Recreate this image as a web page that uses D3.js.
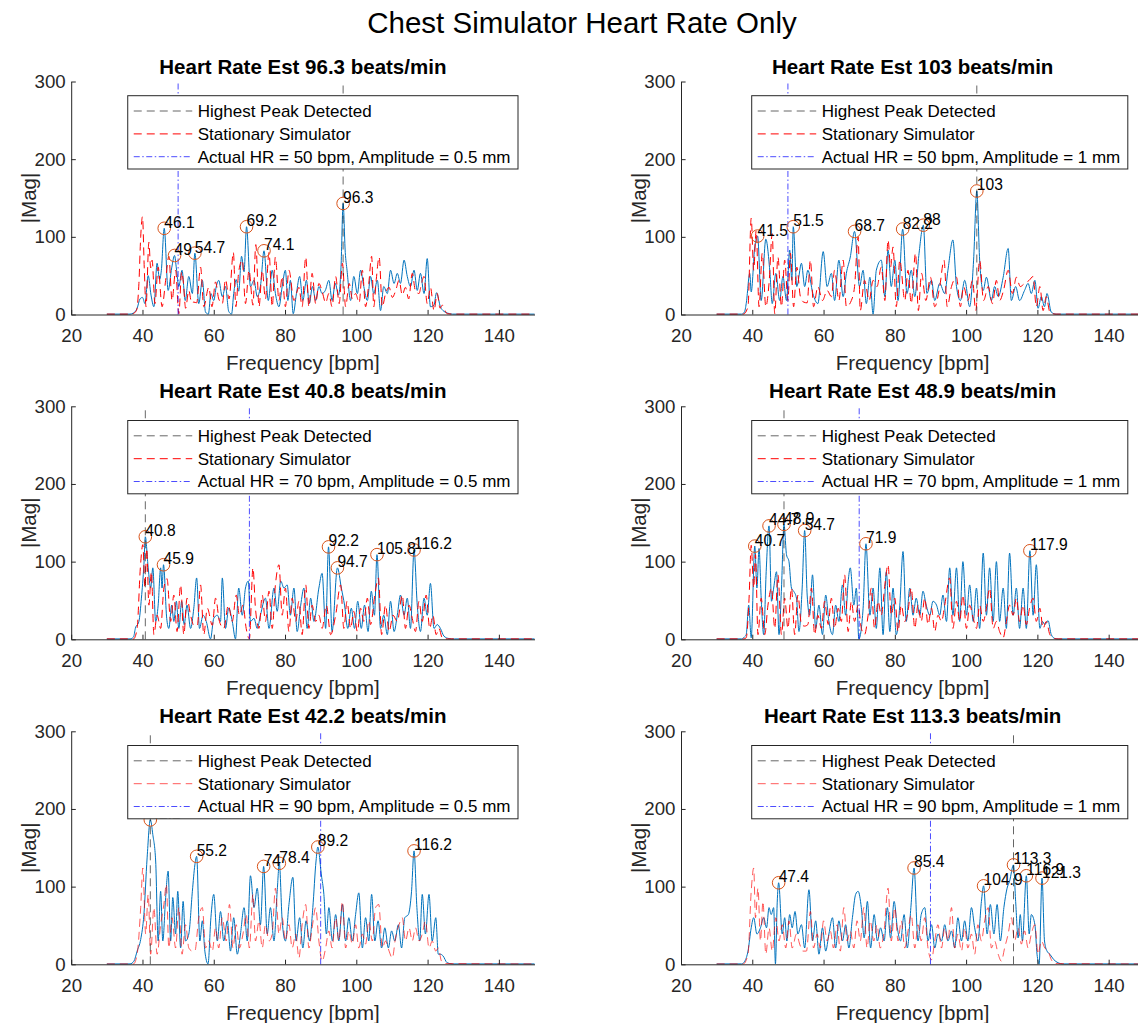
<!DOCTYPE html>
<html>
<head>
<meta charset="utf-8">
<script src="https://cdn.jsdelivr.net/npm/d3@7"></script>
<style>
  html, body { margin: 0; padding: 0; background: #fff; }
  svg { display: block; font-family: "Liberation Sans", Arial, Helvetica, sans-serif; }
</style>
</head>
<body>
<svg id="chart" width="1138" height="1023"></svg>
<script>
// ---------------- data ----------------
const mainTitle = "Chest Simulator Heart Rate Only";
const estimates = [96.3, 103, 40.8, 48.9, 42.2, 113.3];
const actualHR = [50, 50, 70, 70, 90, 90];
const amplitudes = ["0.5", "1", "0.5", "1", "0.5", "1"];
const xTicks = [20, 40, 60, 80, 100, 120, 140];
const yTicks = [0, 100, 200, 300];
const legendNames = ["Highest Peak Detected", "Stationary Simulator"];

// [frequency bpm, |Mag|]
const blue1 = [[30,0.5],[36.5,0.5],[37.5,2],[38.5,8],[39.3,20],[40,22],[40.7,14],[41.6,50],[42.4,25],[43.2,10],[44.1,66],[44.8,45],[45.3,57],[46.1,111],[47.2,31],[48.2,60],[49,76],[49.5,60],[50.2,36],[51.1,57],[52,18],[53,49],[54,27],[54.7,79],[55.8,14],[56.8,44],[57.7,3],[58.5,0.5],[59.2,27],[60,18],[60.7,36],[61.4,44],[62.4,23],[63.3,36],[64.2,4],[65,0.5],[65.6,27],[66.3,45],[67,30],[67.8,75],[68.5,55],[69.2,113],[70.3,36],[71.3,44],[72.2,23],[73.2,40],[74.1,82],[75.3,18],[76.4,57],[77.3,27],[78.3,10],[79.2,36],[80.1,57],[80.8,18],[81.5,44],[82.3,1],[83.2,27],[84.1,49],[85,18],[86,44],[86.8,14],[87.7,36],[88.6,18],[89.5,36],[90.4,27],[91.3,31],[92.3,44],[93.2,18],[94.1,40],[95,25],[95.7,60],[96.3,143],[96.9,80],[97.4,57],[98.4,18],[99.3,49],[100.3,27],[101.2,57],[102.1,36],[103.1,18],[104,49],[104.9,27],[105.9,44],[106.8,5],[107.7,36],[108.7,27],[109.6,57],[110.6,40],[111.5,53],[112.4,40],[113.4,70],[114.3,49],[115.2,36],[116.2,57],[117.1,31],[118,53],[119,27],[119.9,72],[120.8,10],[121.8,12],[122.5,28],[123.6,10],[124.6,4],[125.5,2],[127,0.5],[150,0.5]];
const red1 = [[30,0.5],[37,0.5],[38.3,5],[39,40],[39.5,100],[40,126],[40.5,60],[41,10],[41.8,93],[42.3,60],[42.7,70],[43.5,14],[44.4,61],[45.5,10],[46.5,44],[47.4,75],[48.3,18],[49.3,57],[50.2,1],[51,55],[51.5,40],[52.1,8],[53,31],[53.8,15],[54.4,16],[55.2,15],[56.3,61],[57.2,10],[58.6,35],[59.5,10],[60.5,42],[61.4,20],[62.4,14],[63.3,45],[64.3,20],[65.5,80],[66.2,10],[67,55],[68,70],[68.9,14],[69.9,57],[71,12],[71.8,90],[72.7,10],[73.6,57],[74.5,20],[75.5,80],[76.4,10],[77.3,74],[78.3,18],[79.2,49],[80.1,10],[81.1,57],[82.5,18],[83.9,35],[84.8,10],[85.8,74],[86.7,10],[87.6,53],[88.6,14],[89.5,40],[90.4,30],[91.4,15],[92.3,27],[93.2,10],[94.2,49],[95.2,14],[96.1,66],[97,10],[98,40],[98.9,20],[99.8,27],[100.8,15],[101.7,57],[102.6,10],[103.5,40],[104.3,75],[104.9,10],[105.6,45],[106.4,74],[107.3,10],[108.2,27],[109.2,35],[110.1,22],[111,30],[112,44],[112.9,25],[113.8,35],[114.7,20],[115.7,53],[116.6,30],[117.6,27],[118.3,40],[119,49],[119.9,14],[120.8,35],[121.8,5],[122.7,27],[123.5,8],[124.1,12],[125.5,1],[127,0.5],[150,0.5]];
const peaks1 = [[46.1,111],[49,76],[54.7,79],[69.2,113],[74.1,82],[96.3,143]];

const blue2 = [[30,0.5],[37,0.5],[37.8,3],[38.3,14],[39.3,53],[39.7,29],[40.7,87],[41.5,101],[42.5,18],[43.8,97],[44.9,57],[45.6,14],[46.6,53],[47.7,18],[48.6,49],[49.6,18],[50.5,83],[51.1,44],[51.5,113],[52.5,36],[53.8,66],[54.7,36],[55.6,57],[57,27],[58.4,14],[59.9,81],[61,36],[62.2,53],[63.1,18],[64.3,70],[65.5,23],[66.4,53],[67.5,74],[68.7,107],[70.1,36],[71.1,57],[72,14],[73,48],[73.9,0.5],[74.8,57],[76.2,70],[77.2,23],[78.1,83],[79,36],[80,70],[80.9,18],[82.2,110],[83.4,27],[84.6,57],[85.6,23],[86.8,79],[88,115],[89,27],[90.3,44],[91.2,18],[92.6,40],[94,27],[94.9,57],[96.3,96],[97.3,36],[98.4,18],[99.6,44],[101,10],[102.1,70],[103,159],[103.8,70],[104.8,31],[105.7,48],[107.1,18],[108,36],[109,23],[110.4,48],[111.8,85],[112.7,18],[113.9,36],[115,18],[116.4,31],[117.4,40],[118.3,27],[119.3,44],[120.2,8],[121.1,23],[122,10],[122.7,27],[123.9,3],[125.3,0.5],[150,0.5]];
const red2 = [[30,0.5],[37.5,0.5],[38.8,10],[39.7,124],[40.4,57],[41.1,108],[41.9,10],[42.8,79],[43.8,10],[44.7,40],[45.6,104],[46.3,1],[47.2,74],[48.2,10],[49.1,70],[50,18],[50.7,79],[51.6,10],[52.5,61],[53.5,23],[54.4,16],[55.4,15],[56.3,70],[57.2,10],[58.4,36],[59.7,18],[61,31],[62.2,23],[63.1,57],[64.3,18],[65.5,70],[66.4,10],[67.8,18],[68.7,36],[69.7,100],[70.3,5],[71.5,44],[72.8,18],[73.9,44],[75,36],[76.2,61],[77.2,18],[78.1,96],[78.8,61],[79.5,87],[80.4,10],[81.4,70],[82.8,18],[83.7,57],[84.6,14],[85.8,79],[86.6,5],[87.5,53],[88.7,18],[90,48],[91.2,10],[92.6,36],[93.8,70],[94.7,10],[95.9,36],[97.3,48],[98.4,10],[99.3,36],[100.5,18],[101.8,44],[102.7,5],[103.8,70],[104.9,18],[106.2,36],[107.4,14],[108.5,44],[109.4,18],[110.5,31],[111.8,57],[113,27],[114.1,48],[115.2,36],[116.4,40],[117.7,44],[118.8,49],[119.7,10],[120.7,36],[121.6,5],[122.5,23],[123.5,3],[124.9,0.5],[150,0.5]];
const peaks2 = [[41.5,101],[51.5,113],[68.7,107],[82.2,110],[88,115],[103,159]];

const blue3 = [[30,0.5],[36.5,0.5],[37.5,3],[38,14],[39,23],[39.7,53],[40.4,96],[40.8,132],[41.6,92],[42.3,66],[42.9,92],[43.7,23],[44.4,44],[45.1,92],[45.5,66],[45.9,96],[46.8,27],[47.4,14],[48.2,44],[48.8,23],[49.5,49],[50.2,14],[51,49],[51.7,19],[52.5,44],[53.5,14],[54.4,40],[55.2,79],[56,14],[57,31],[57.9,23],[59.1,0.5],[60,27],[61,31],[61.9,23],[62.4,79],[63.3,14],[64.2,40],[65.2,23],[66.1,0.5],[67,66],[68,31],[68.9,66],[69.7,75],[70.3,23],[71.3,27],[72.2,14],[73.1,31],[74.5,53],[75.5,14],[76.9,66],[77.8,36],[78.8,75],[79.7,66],[80.6,70],[81.5,31],[82.5,66],[83.4,10],[84.4,44],[85.3,66],[86.2,14],[87.2,53],[88.1,23],[89.5,66],[90.4,85],[91.4,14],[92.2,119],[93.2,10],[94.7,92],[95.8,66],[96.7,44],[97.6,14],[98.6,40],[99.5,14],[100.4,49],[101.4,14],[102.3,44],[103.3,10],[104.2,62],[105.1,31],[105.8,109],[106.8,14],[107.7,31],[108.7,6],[109.6,49],[110.6,10],[111.5,31],[112.4,57],[113.4,31],[114.3,53],[115.2,14],[116.2,115],[117.1,44],[118,10],[119,53],[119.9,31],[120.8,72],[121.8,14],[122.7,19],[123.6,14],[124.6,4],[126,1],[127.5,0.5],[150,0.5]];
const red3 = [[30,0.5],[37.5,0.5],[38.5,14],[39.4,92],[40.1,122],[40.7,66],[41.2,117],[41.8,44],[42.5,87],[43.2,6],[44.1,31],[45.1,14],[46,66],[46.9,78],[47.9,23],[48.8,57],[49.7,10],[50.7,70],[51.6,6],[52.5,53],[53.5,31],[54.4,18],[55.4,18],[56.3,70],[57.2,6],[58.2,40],[59.6,18],[60.5,53],[61.6,23],[62.8,14],[64.1,44],[65.2,23],[66.3,57],[67.2,31],[68.2,44],[69.1,14],[70,0.5],[71,92],[71.7,40],[72.7,14],[73.6,57],[74.5,23],[75.5,62],[76.4,14],[77.3,70],[78.3,96],[79.2,31],[80.1,66],[81.1,10],[82,53],[83,23],[83.9,49],[84.8,6],[85.8,70],[86.7,14],[87.6,44],[88.6,23],[89.5,31],[90.4,14],[91.6,44],[92.8,6],[94.2,31],[95.6,70],[96.5,14],[97.4,49],[98.4,14],[99.3,36],[100.3,10],[101.2,40],[102.1,23],[103.1,53],[104,19],[105.2,57],[106.2,79],[107.1,6],[108.2,44],[109.2,10],[110.3,31],[111.5,23],[112.9,57],[113.8,14],[114.8,44],[115.7,27],[116.6,10],[117.6,49],[118.5,23],[119.6,57],[120.6,14],[121.5,31],[122.4,6],[123.2,14],[124.1,2],[125.5,0.5],[150,0.5]];
const peaks3 = [[40.8,132],[45.9,96],[92.2,119],[94.7,92],[105.8,109],[116.2,115]];

const blue4 = [[30,0.5],[37,0.5],[37.8,3],[38.3,6],[39,44],[39.7,2],[40.7,120],[41.3,66],[41.9,117],[42.5,53],[43.2,6],[43.9,87],[44.7,146],[45.4,49],[46,66],[46.8,87],[47.5,6],[48.2,66],[48.9,148],[49.6,109],[50.3,100],[51,66],[51.6,62],[52.4,53],[53.1,10],[54,66],[54.7,140],[55.4,57],[56.1,31],[56.9,83],[57.8,14],[58.7,44],[59.7,6],[60.6,57],[61.5,23],[62.5,6],[63.4,44],[64.3,23],[65.3,70],[66.2,31],[66.9,74],[67.5,92],[68.5,44],[69.2,66],[69.9,0.5],[71.1,40],[71.9,123],[73,31],[73.9,66],[74.8,14],[75.8,92],[76.7,6],[77.6,87],[78.6,10],[79.5,66],[80.4,6],[81.4,44],[82.3,113],[83.2,23],[84.2,66],[85.1,31],[86,53],[87,31],[87.9,62],[88.8,44],[89.8,31],[90.7,49],[91.7,44],[92.6,31],[93.5,57],[94.5,23],[95.4,92],[96.3,31],[97.3,92],[98.2,23],[99.1,100],[100.1,31],[101,70],[102,23],[102.9,66],[103.8,14],[104.8,111],[105.7,31],[106.6,92],[107.6,23],[108.5,100],[109.4,23],[110.4,66],[111.3,14],[112.2,111],[113.2,31],[114.1,66],[115,14],[116,66],[116.9,14],[117.9,114],[118.8,31],[119.7,96],[120.7,14],[121.4,23],[122.1,19],[123,24],[123.9,6],[124.9,1],[126,0.5],[150,0.5]];
const red4 = [[30,0.5],[37.5,0.5],[38.3,2],[39.1,53],[39.7,121],[40.4,66],[40.9,109],[41.6,6],[42.5,53],[43.5,6],[44.4,44],[45.4,66],[46.3,14],[47.2,83],[48.2,6],[49.1,53],[50,14],[51,66],[51.9,6],[52.8,57],[53.8,19],[54.7,17],[55.6,19],[56.6,66],[57.5,6],[58.4,31],[59.4,14],[60.3,49],[61.3,19],[62.2,53],[63.1,14],[64.1,40],[65,23],[65.9,83],[66.9,10],[67.8,49],[68.7,23],[69.7,44],[70.6,14],[71.5,6],[72.5,31],[73.4,66],[74.3,14],[75.3,49],[76.2,31],[77.2,70],[78.1,96],[79,31],[80,53],[80.9,10],[81.8,44],[82.8,23],[83.7,36],[84.6,66],[85.6,14],[86.5,44],[87.4,23],[88.4,53],[89.3,19],[90.3,40],[91.2,10],[92.1,31],[93.1,23],[94,44],[95.4,79],[96.3,14],[97.3,49],[98.2,23],[99.1,57],[100.1,14],[101,44],[102,27],[102.9,14],[103.8,44],[104.8,23],[105.7,40],[106.6,66],[107.6,14],[108.5,23],[109.4,10],[110.4,2],[111.3,23],[112.2,44],[113.2,31],[114.1,53],[115,23],[116,44],[116.9,19],[117.8,40],[118.8,53],[119.7,23],[120.7,40],[121.6,14],[122.5,23],[123.5,6],[124.4,2],[125.5,0.5],[150,0.5]];
const peaks4 = [[40.7,120],[44.7,146],[48.9,148],[54.7,140],[71.9,123],[117.9,114]];

const blue5 = [[30,0.5],[36.5,0.5],[37.6,4],[38.5,17],[39.5,32],[40.4,64],[41.3,137],[42.2,186],[42.9,167],[43.7,133],[44.4,30],[45.1,94],[45.7,30],[46.5,86],[47.2,120],[47.9,30],[48.5,86],[49.3,39],[49.9,94],[50.7,21],[51.4,81],[52.1,30],[53,39],[54,94],[54.7,128],[55.2,139],[56.1,30],[56.8,56],[57.5,17],[58.4,0.5],[59.2,60],[60,90],[61,30],[61.9,68],[62.8,30],[63.8,56],[64.7,17],[65.6,60],[66.6,13],[67.5,39],[68.5,73],[69.4,30],[70.3,114],[71.3,73],[72.2,98],[73.1,51],[74,126],[75,39],[75.9,73],[76.9,30],[77.8,94],[78.4,130],[79.2,56],[80.1,30],[81.1,77],[82.2,112],[83.1,30],[84.1,60],[85,21],[85.9,56],[86.9,30],[87.8,73],[88.7,133],[89.2,151],[90.2,115],[90.9,90],[91.6,39],[92.3,73],[93.3,30],[94.2,64],[95.1,30],[96.1,77],[97,30],[97.9,60],[98.9,30],[99.8,64],[100.7,92],[101.7,21],[102.6,60],[103.5,30],[104.3,90],[105.2,30],[106.1,56],[107.1,21],[108,47],[109,21],[109.9,43],[110.8,30],[111.8,51],[112.7,21],[113.6,60],[114.6,64],[115.5,94],[116.2,146],[117,73],[117.8,30],[118.5,90],[119.4,39],[120.4,90],[121.3,30],[122.3,60],[123,13],[123.6,13],[124.3,11],[125.5,2],[127,0.5],[150,0.5]];
const red5 = [[30,0.5],[37.5,0.5],[38.5,13],[39.5,73],[40.1,124],[40.9,39],[41.6,90],[42.3,13],[43.2,73],[44.1,13],[45.1,51],[46,77],[46.7,103],[47.4,21],[48.3,60],[49.3,21],[50.2,73],[51.1,13],[52.1,51],[53,21],[54,17],[54.7,17],[55.8,60],[56.8,73],[57.7,21],[58.6,30],[59.6,17],[60.5,47],[61.4,21],[62.4,60],[63.5,30],[64.4,77],[65.4,21],[66.3,51],[67.2,21],[68.2,39],[69.1,64],[70,21],[71,90],[71.7,30],[72.7,56],[73.6,21],[74.5,51],[75.5,30],[76.4,39],[77.3,98],[78.3,39],[79.2,60],[80.1,30],[81.1,51],[82,21],[83,39],[83.9,8],[84.8,51],[85.8,77],[86.7,21],[87.6,47],[88.6,73],[89.5,30],[90.4,4],[91.4,21],[92.3,43],[93.2,21],[94.2,60],[95.1,30],[96.1,81],[97,21],[97.9,43],[98.9,26],[99.8,51],[100.7,21],[101.7,39],[102.6,26],[103.5,56],[104.5,30],[105.4,73],[106.3,77],[107.3,21],[108.2,30],[109.2,17],[110.1,8],[111,34],[112,51],[112.9,60],[113.8,30],[114.8,47],[115.7,30],[116.6,47],[117.6,30],[118.5,39],[119.4,56],[120.4,21],[121.3,30],[122.3,17],[123,21],[123.9,4],[125,1],[150,0.5]];
const peaks5 = [[42.2,186],[55.2,139],[74,126],[78.4,130],[89.2,151],[116.2,146]];

const blue6 = [[30,0.5],[37,0.5],[37.9,4],[38.8,17],[39.7,47],[40.4,60],[41.3,39],[42.3,47],[43.2,60],[44,47],[44.7,73],[45.3,64],[46,73],[46.5,0.5],[47,80],[47.4,105],[48.4,39],[49.1,60],[49.7,30],[50.5,64],[51.2,47],[52,68],[52.8,39],[53.8,51],[54.7,21],[55.9,96],[56.9,30],[57.8,56],[58.7,13],[59.7,47],[60.6,17],[61.5,39],[62.5,60],[63.4,21],[64.3,56],[65.3,30],[66.2,51],[67.1,21],[68.1,60],[69,90],[69.7,94],[70.6,73],[71.4,34],[72.3,81],[73.2,21],[74.2,64],[75.1,30],[76,47],[77,30],[77.9,73],[78.8,34],[79.8,81],[80.7,47],[81.6,30],[82.6,64],[83.5,21],[84.5,73],[85.4,124],[86.5,30],[87.4,64],[88.4,73],[89.3,30],[90.3,51],[91.2,21],[92.1,39],[93.1,30],[94,51],[94.9,30],[95.9,43],[96.8,21],[97.7,60],[98.7,30],[99.6,56],[100.5,30],[101.5,73],[102.4,47],[103.3,30],[104.3,81],[104.9,101],[105.9,39],[106.8,77],[107.8,39],[108.7,77],[109.6,30],[110.6,73],[111.5,98],[112.2,107],[113.3,128],[113.9,81],[114.6,34],[115.2,64],[115.8,30],[116.9,114],[117.7,39],[118.3,64],[119.3,51],[119.9,13],[120.5,0.5],[121.3,111],[122,30],[122.7,17],[123.5,13],[124.6,6],[125.8,2],[127,0.5],[150,0.5]];
const red6 = [[30,0.5],[37.5,0.5],[38.8,13],[39.7,94],[40.4,124],[40.9,60],[41.6,98],[42.3,30],[43,81],[43.8,13],[44.7,47],[45.6,17],[46.6,60],[47.5,30],[48.4,51],[49.4,21],[50.3,56],[51.2,21],[52.4,39],[53.3,26],[54.2,17],[55.2,17],[56.3,68],[57.2,21],[58.2,39],[59.1,21],[60,56],[61,30],[61.9,43],[62.8,21],[63.8,51],[64.7,17],[65.7,73],[66.6,30],[67.5,43],[68.5,21],[69.4,56],[70.3,30],[71.3,73],[72.2,21],[73.1,56],[74.1,30],[75,51],[75.9,21],[76.9,39],[78.1,98],[79,30],[80,73],[80.9,30],[81.8,56],[82.8,21],[83.7,43],[84.6,64],[85.6,21],[86.5,51],[87.4,30],[88.4,60],[89.3,21],[90.3,6],[91.2,30],[92.1,51],[93.1,21],[94,47],[94.9,30],[95.9,73],[96.8,21],[97.7,39],[98.7,17],[99.6,47],[100.5,21],[101.5,39],[102.4,13],[103.3,51],[104.3,30],[105.2,56],[106.2,73],[107.1,21],[108,30],[109,13],[109.9,4],[110.8,21],[111.8,39],[112.7,60],[113.6,30],[114.6,47],[115.5,26],[116.4,43],[117.4,21],[118.3,39],[119.3,51],[120.2,13],[121.1,30],[122.1,21],[123,17],[123.9,6],[125,1],[150,0.5]];
const peaks6 = [[47.4,105],[85.4,124],[104.9,101],[113.3,128],[116.9,114],[121.3,111]];

const blueSeries = [blue1, blue2, blue3, blue4, blue5, blue6];
const redSeries = [red1, red2, red3, red4, red5, red6];
const peakSeries = [peaks1, peaks2, peaks3, peaks4, peaks5, peaks6];

// ---------------- layout / style ----------------
const FONT = '"Liberation Sans", Arial, Helvetica, sans-serif';
const AX = "#262626";
const colLeft = [71.2, 681];
const plotW = 463.3;
const rowTop = [81.5, 406.3, 731.3];
const plotH = 233;
const redOpacity = [1, 1, 1, 1, 0.65, 0.65];
const DASH = "8,5";
const DASHDOT = "6,2.5,1.5,2.5";

const svg = d3.select("#chart");
svg.append("rect").attr("width", 1138).attr("height", 1023).attr("fill", "#fff");

svg.append("text")
  .attr("x", 582).attr("y", 33)
  .attr("text-anchor", "middle")
  .attr("font-size", 29.5)
  .attr("fill", "#000")
  .text(mainTitle);

const fmt = v => String(+v.toFixed(1));

for (let i = 0; i < 6; i++) {
  const col = i % 2, row = Math.floor(i / 2);
  const x0 = colLeft[col], top = rowTop[row], bottom = top + plotH;
  const x = d3.scaleLinear().domain([20, 150]).range([x0, x0 + plotW]);
  const y = d3.scaleLinear().domain([0, 300]).range([bottom, top]);
  const g = svg.append("g");

  const line = d3.line().x(d => x(d[0])).y(d => y(d[1])).curve(d3.curveMonotoneX);

  // spectra
  g.append("path").datum(blueSeries[i])
    .attr("d", line).attr("fill", "none")
    .attr("stroke", "#0072BD").attr("stroke-width", 1);
  g.append("path").datum(redSeries[i])
    .attr("d", line).attr("fill", "none")
    .attr("stroke", "#FF0000").attr("stroke-width", 1)
    .attr("stroke-opacity", redOpacity[i])
    .attr("stroke-dasharray", DASH);

  // vertical reference lines
  g.append("line")
    .attr("x1", x(estimates[i])).attr("x2", x(estimates[i]))
    .attr("y1", y(0)).attr("y2", y(300))
    .attr("stroke", "#000").attr("stroke-opacity", 0.6).attr("stroke-width", 1)
    .attr("stroke-dasharray", DASH);
  g.append("line")
    .attr("x1", x(actualHR[i])).attr("x2", x(actualHR[i]))
    .attr("y1", y(0)).attr("y2", y(300))
    .attr("stroke", "#0000FF").attr("stroke-opacity", 0.7).attr("stroke-width", 1)
    .attr("stroke-dasharray", DASHDOT);

  // peak markers and labels
  g.selectAll("circle.pk").data(peakSeries[i]).enter().append("circle")
    .attr("class", "pk")
    .attr("cx", d => x(d[0])).attr("cy", d => y(d[1])).attr("r", 6.3)
    .attr("fill", "none").attr("stroke", "#D95319").attr("stroke-width", 1);
  g.selectAll("text.pk").data(peakSeries[i]).enter().append("text")
    .attr("class", "pk")
    .attr("x", d => x(d[0])).attr("y", d => y(d[1]) - 6)
    .attr("dy", "0.35em")
    .attr("font-size", 15.6).attr("fill", "#000")
    .text(d => fmt(d[0]));

  // axes
  const xAxis = d3.axisBottom(x).tickValues(xTicks).tickSizeInner(-4.6).tickSizeOuter(0).tickFormat(d3.format("d"));
  const gx = g.append("g").attr("transform", `translate(0,${bottom})`).call(xAxis);
  gx.select(".domain").attr("stroke", AX);
  gx.selectAll(".tick line").attr("stroke", AX);
  gx.selectAll(".tick text").attr("y", 27.5).attr("dy", 0)
    .attr("font-size", 18.7).attr("fill", AX).attr("font-family", FONT);

  const yAxis = d3.axisLeft(y).tickValues(yTicks).tickSizeInner(-4.6).tickSizeOuter(0).tickFormat(d3.format("d"));
  const gy = g.append("g").attr("transform", `translate(${x0},0)`).call(yAxis);
  gy.select(".domain").attr("stroke", AX);
  gy.selectAll(".tick line").attr("stroke", AX);
  gy.selectAll(".tick text").attr("x", -5.5)
    .attr("font-size", 18.7).attr("fill", AX).attr("font-family", FONT);

  // axis labels and title
  g.append("text")
    .attr("x", x0 + plotW / 2).attr("y", bottom + 55.5)
    .attr("text-anchor", "middle").attr("font-size", 20.5).attr("fill", AX)
    .text("Frequency [bpm]");
  g.append("text")
    .attr("transform", `translate(${x0 - 42.5},${(top + bottom) / 2}) rotate(-90)`)
    .attr("text-anchor", "middle").attr("dy", "0.35em")
    .attr("font-size", 20.5).attr("fill", AX)
    .text("|Mag|");
  g.append("text")
    .attr("x", x0 + plotW / 2).attr("y", top - 8)
    .attr("text-anchor", "middle").attr("font-size", 20.5).attr("font-weight", "bold")
    .attr("fill", "#000")
    .text(`Heart Rate Est ${fmt(estimates[i])} beats/min`);

  // legend
  const labels = [legendNames[0], legendNames[1],
    `Actual HR = ${actualHR[i]} bpm, Amplitude = ${amplitudes[i]} mm`];
  const lg = g.append("g");
  const box = lg.append("rect").attr("fill", "#fff").attr("stroke", AX).attr("stroke-width", 1);
  const texts = lg.selectAll("text").data(labels).enter().append("text")
    .attr("font-size", 17).attr("fill", "#000").attr("dy", "0.35em")
    .text(d => d);
  let maxW = 0;
  texts.each(function () { maxW = Math.max(maxW, this.getComputedTextLength()); });
  const lgW = 70 + maxW + 7.5, lgH = 73.3;
  const lgX = x0 + plotW - 16.5 - lgW, lgY = top + 14.2;
  box.attr("x", lgX).attr("y", lgY).attr("width", lgW).attr("height", lgH);
  const rowsY = [15.3, 38.2, 61];
  texts.attr("x", lgX + 70).attr("y", (d, k) => lgY + rowsY[k]);
  const styles = [
    { c: "#000", o: 0.6, dash: DASH },
    { c: "#FF0000", o: redOpacity[i], dash: DASH },
    { c: "#0000FF", o: 0.7, dash: DASHDOT }
  ];
  styles.forEach((s, k) => {
    lg.append("line")
      .attr("x1", lgX + 6).attr("x2", lgX + 64.5)
      .attr("y1", lgY + rowsY[k]).attr("y2", lgY + rowsY[k])
      .attr("stroke", s.c).attr("stroke-opacity", s.o).attr("stroke-width", 1)
      .attr("stroke-dasharray", s.dash);
  });
}
</script>
</body>
</html>
